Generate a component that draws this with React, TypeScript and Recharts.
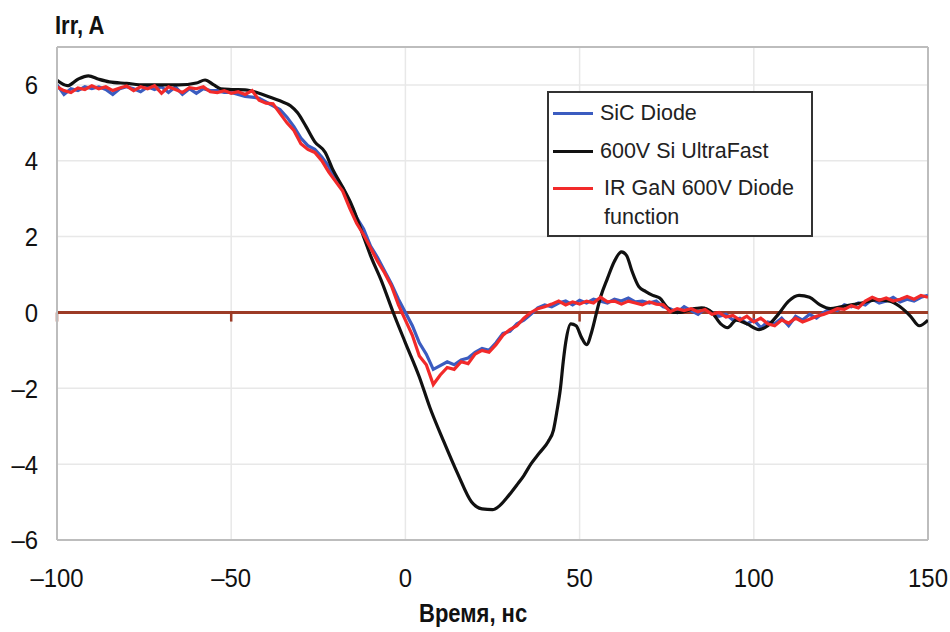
import React from 'react';
import { LineChart, Line, XAxis, YAxis, CartesianGrid, ReferenceLine, Legend } from 'recharts';

// time axis, ns (shared by the two noisy traces)
const TIME = [
  -100, -98, -96, -94, -92, -90, -88, -86, -84, -82, -80, -78, -76, -74, -72, -70, -68, -66, -64, -62,
  -60, -58, -56, -54, -52, -50, -48, -46, -44, -42, -40, -38, -36, -34, -32, -30, -28, -26, -24, -22,
  -20, -18, -16, -14, -12, -10, -8, -6, -4, -2, 0, 2, 4, 6, 8, 10, 12, 14, 16, 18,
  20, 22, 24, 26, 28, 30, 32, 34, 36, 38, 40, 42, 44, 46, 48, 50, 52, 54, 56, 58,
  60, 62, 64, 66, 68, 70, 72, 74, 76, 78, 80, 82, 84, 86, 88, 90, 92, 94, 96, 98,
  100, 102, 104, 106, 108, 110, 112, 114, 116, 118, 120, 122, 124, 126, 128, 130, 132, 134, 136, 138,
  140, 142, 144, 146, 148, 150,
];

const SIC_DIODE = [
  6.0, 5.75, 5.9, 5.85, 5.95, 5.9, 5.95, 5.88, 5.75, 5.9, 5.95, 5.9, 5.82, 5.95, 5.88, 5.95, 5.8, 5.95, 5.75, 5.9,
  5.78, 5.9, 5.85, 5.85, 5.8, 5.8, 5.75, 5.7, 5.68, 5.65, 5.55, 5.45, 5.35, 5.15, 4.9, 4.6, 4.4, 4.3, 4.1, 3.85,
  3.5, 3.3, 2.9, 2.5, 2.2, 1.75, 1.45, 1.1, 0.75, 0.35, 0.0, -0.35, -0.8, -1.1, -1.5, -1.4, -1.3, -1.38, -1.25, -1.2,
  -1.05, -0.95, -1.0, -0.8, -0.55, -0.5, -0.3, -0.2, -0.05, 0.12, 0.2, 0.15, 0.25, 0.3, 0.2, 0.32, 0.25, 0.35, 0.3, 0.25,
  0.35, 0.3, 0.38, 0.28, 0.3, 0.25, 0.3, 0.15, 0.1, 0.0, 0.15, 0.05, -0.05, 0.1, 0.0, -0.1, -0.05, -0.2, -0.15, -0.3,
  -0.2, -0.4, -0.25, -0.3, -0.15, -0.35, -0.1, -0.2, -0.05, -0.15, 0.0, 0.1, 0.05, 0.2, 0.15, 0.25, 0.2, 0.35, 0.25, 0.3,
  0.4, 0.28, 0.35, 0.3, 0.4, 0.45,
];

const GAN_DIODE = [
  5.95, 5.85, 5.8, 5.92, 5.88, 5.98, 5.9, 5.95, 5.85, 5.92, 5.97, 5.85, 5.95, 5.9, 5.98, 5.78, 5.95, 5.88, 5.8, 5.93,
  5.9, 5.95, 5.82, 5.8, 5.85, 5.78, 5.82, 5.75, 5.85, 5.6, 5.52, 5.5, 5.25, 5.0, 4.8, 4.45, 4.3, 4.22, 4.0, 3.7,
  3.45, 3.2, 2.75, 2.35, 2.05, 1.7, 1.35, 1.05, 0.7, 0.2, -0.2, -0.6, -1.15, -1.38, -1.9, -1.65, -1.45, -1.5, -1.3, -1.35,
  -1.1, -1.0, -1.05, -0.85, -0.6, -0.45, -0.35, -0.15, 0.0, 0.1, 0.15, 0.22, 0.3, 0.2, 0.28, 0.22, 0.3, 0.25, 0.4, 0.28,
  0.3, 0.22, 0.3, 0.25, 0.2, 0.28, 0.22, 0.2, 0.02, 0.1, 0.05, 0.1, 0.02, 0.08, -0.05, 0.0, -0.12, -0.08, -0.2, -0.1,
  -0.25, -0.15, -0.3, -0.35, -0.2, -0.28, -0.15, -0.25, -0.18, -0.1, -0.05, 0.02, 0.1, 0.08, 0.18, 0.12, 0.3, 0.4, 0.32, 0.38,
  0.3, 0.35, 0.42, 0.35, 0.45, 0.4,
];

// 600V Si UltraFast trace is smooth, sampled at its own times
const SI_TIME = [
  -100, -97, -94, -91, -88, -85, -80, -75, -70, -65, -60, -57.5, -55, -53, -50, -46, -42, -39, -36, -33,
  -31, -28.5, -26, -23, -21, -18, -15.5, -12, -10, -7, -3.5, 0, 4, 7, 11, 15, 19, 22, 25, 27,
  29, 32, 34, 36, 38.5, 41, 42.5, 43.5, 44.5, 45.3, 46, 47.5, 49, 50.5, 52, 53.5, 55, 56, 58, 60,
  62, 63.5, 65, 67, 69, 71, 73, 75, 77, 79, 82, 85, 88, 90.5, 92.5, 95, 98, 101.5, 104, 107,
  110, 113, 116, 119, 122, 125, 128, 131, 135, 139, 142, 145, 147.5, 150,
];
const SI_ULTRAFAST = [
  6.12, 5.98, 6.15, 6.24, 6.15, 6.08, 6.04, 6.0, 6.0, 6.0, 6.05, 6.13, 6.0, 5.9, 5.88, 5.87, 5.78, 5.68, 5.58, 5.45,
  5.27, 4.9, 4.5, 4.22, 3.8, 3.3, 2.85, 2.0, 1.5, 0.86, 0.0, -0.8, -1.7, -2.5, -3.4, -4.25, -5.0, -5.18, -5.2, -5.1,
  -4.9, -4.55, -4.3, -4.0, -3.7, -3.4, -3.1, -2.6, -2.0, -1.3, -0.8, -0.3, -0.35, -0.65, -0.85, -0.5, 0.05, 0.4, 0.9, 1.35,
  1.6, 1.5, 1.1, 0.68, 0.55, 0.45, 0.38, 0.15, 0.0, 0.0, 0.08, 0.12, 0.0, -0.3, -0.4, -0.2, -0.3, -0.45, -0.35, -0.05,
  0.3, 0.45, 0.4, 0.2, 0.1, 0.15, 0.2, 0.25, 0.33, 0.3, 0.15, -0.1, -0.35, -0.2,
];

const SERIES_NAMES = ['SiC Diode', '600V Si UltraFast', 'IR GaN 600V Diode function'];
const X_TICKS = [-100, -50, 0, 50, 100, 150];
const Y_TICKS = [-6, -4, -2, 0, 2, 4, 6];
const ZERO_MARKS = [-100, -50, 50, 100];

const sicData = TIME.map((t, i) => ({ t, v: SIC_DIODE[i] }));
const ganData = TIME.map((t, i) => ({ t, v: GAN_DIODE[i] }));
const siData = SI_TIME.map((t, i) => ({ t, v: SI_ULTRAFAST[i] }));

const FONT = "'Liberation Sans', Arial, sans-serif";
const dash = (v: number) => (v < 0 ? '\u2013' + Math.abs(v) : String(v));

const XTick = ({ x, payload }: any) => (
  <text
    x={x}
    y={578}
    textAnchor="middle"
    dominantBaseline="central"
    fontFamily={FONT}
    fontSize={26}
    fill="#111"
    transform={`translate(${x} 0) scale(0.92 1) translate(${-x} 0)`}
  >
    {dash(payload.value)}
  </text>
);

const YTick = ({ y, payload }: any) => (
  <text
    x={38}
    y={y}
    textAnchor="end"
    dominantBaseline="central"
    fontFamily={FONT}
    fontSize={26}
    fill="#111"
    transform={`translate(38 0) scale(0.92 1) translate(-38 0)`}
  >
    {dash(payload.value)}
  </text>
);

const LegendBox = ({ payload }: any) => {
  const items = [...(payload || [])].sort(
    (a: any, b: any) => SERIES_NAMES.indexOf(a.value) - SERIES_NAMES.indexOf(b.value)
  );
  return (
    <div
      style={{
        width: 266,
        height: 146,
        boxSizing: 'border-box',
        border: '2px solid #333',
        background: '#fff',
        position: 'relative',
        fontFamily: FONT,
        fontSize: 21.5,
        color: '#222',
      }}
    >
      {items.map((p: any, i: number) => (
        <div key={i} style={{ position: 'absolute', left: 4, top: 6 + i * 37.5, display: 'flex', alignItems: 'flex-start' }}>
          <div style={{ width: 40, height: 3, background: p.color, marginTop: 13 }} />
          <div style={{ marginLeft: i === 2 ? 11 : 7, width: 210, lineHeight: '29px' }}>{p.value}</div>
        </div>
      ))}
    </div>
  );
};

const titleStyle: React.CSSProperties = {
  position: 'absolute',
  fontFamily: FONT,
  fontWeight: 'bold',
  fontSize: 25,
  color: '#111',
  whiteSpace: 'nowrap',
  transform: 'scaleX(0.88)',
  transformOrigin: 'left top',
};

export default function App() {
  return (
    <div style={{ position: 'absolute', left: 0, top: 0, width: 950, height: 632, background: '#fff' }}>
      <div style={{ ...titleStyle, left: 55, top: 11 }}>Irr, A</div>
      <div style={{ ...titleStyle, left: 419, top: 599 }}>Время, нс</div>
      <LineChart width={950} height={632} margin={{ top: 47, right: 22, left: 0, bottom: 0 }}>
        <CartesianGrid stroke="#e8e8e8" strokeWidth={1.5} />
        <XAxis
          dataKey="t"
          type="number"
          domain={[-100, 150]}
          ticks={X_TICKS}
          height={92}
          tick={<XTick />}
          tickLine={false}
          axisLine={{ stroke: '#bdbdbd', strokeWidth: 2 }}
          allowDataOverflow
        />
        <YAxis
          type="number"
          domain={[-6, 7]}
          ticks={Y_TICKS}
          width={57}
          tick={<YTick />}
          tickLine={false}
          axisLine={{ stroke: '#bdbdbd', strokeWidth: 2 }}
          allowDataOverflow
        />
        <ReferenceLine y={7} stroke="#bdbdbd" strokeWidth={2} />
        <ReferenceLine x={150} stroke="#bdbdbd" strokeWidth={2} />
        <ReferenceLine y={0} stroke="#9c3b26" strokeWidth={3} />
        {ZERO_MARKS.map((m) => (
          <ReferenceLine key={m} segment={[{ x: m, y: 0 }, { x: m, y: -0.24 }]} stroke="#9c3b26" strokeWidth={2.5} />
        ))}
        <Line data={sicData} dataKey="v" name={SERIES_NAMES[0]} type="linear" stroke="#3b5cc0" strokeWidth={3.2} dot={false} isAnimationActive={false} />
        <Line data={siData} dataKey="v" name={SERIES_NAMES[1]} type="monotone" stroke="#111" strokeWidth={3.2} dot={false} isAnimationActive={false} />
        <Line data={ganData} dataKey="v" name={SERIES_NAMES[2]} type="linear" stroke="#f22a2a" strokeWidth={3.2} dot={false} isAnimationActive={false} />
        <Legend
          layout="vertical"
          verticalAlign="middle"
          align="center"
          content={<LegendBox />}
          wrapperStyle={{ position: 'absolute', left: 547, top: 91, width: 266, height: 146 }}
        />
      </LineChart>
    </div>
  );
}
